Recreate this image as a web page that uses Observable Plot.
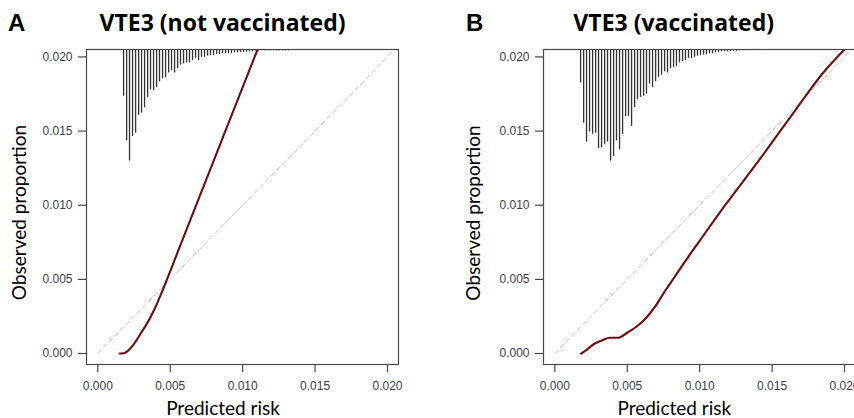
<!DOCTYPE html>
<html><head><meta charset="utf-8">
<script src="https://cdn.jsdelivr.net/npm/d3@7"></script>
<script src="https://cdn.jsdelivr.net/npm/@observablehq/plot@0.6"></script>
<style>
html,body{margin:0;padding:0;background:#fff;}
#wrap{position:relative;width:854px;height:418px;overflow:hidden;background:#fff;}
.panel{position:absolute;top:0;}
#overlay{position:absolute;left:0;top:0;}
</style></head><body><div id="wrap"></div>
<script>
// ---- data ----
const xTicks = [0, 0.005, 0.010, 0.015, 0.020];
const yTicks = [0, 0.005, 0.010, 0.015, 0.020];
const diagonal = [0, 0.0215];

const panelLetters = ["A", "B"];
const titles = ["VTE3 (not vaccinated)", "VTE3 (vaccinated)"];
const xLabel = "Predicted risk";
const yLabel = "Observed proportion";

// calibration curve, not vaccinated
const curveAX = [0.00150,0.00180,0.00210,0.00250,0.00295,0.00341,0.00387,0.00433,0.00475,0.00550,0.00650,0.00750,0.00850,0.00950,0.01103];
const curveAY = [0.00000,0.00002,0.00020,0.00065,0.00133,0.00205,0.00290,0.00392,0.00493,0.00680,0.00928,0.01176,0.01424,0.01672,0.02050];
// calibration curve, vaccinated
const curveBX = [0.00182,0.00220,0.00274,0.00330,0.00378,0.00436,0.00500,0.00574,0.00630,0.00690,0.00760,0.00830,0.00920,0.01000,0.01180,0.01400,0.01660,0.01850,0.02000];
const curveBY = [0.00000,0.00025,0.00066,0.00090,0.00106,0.00106,0.00140,0.00189,0.00240,0.00313,0.00420,0.00520,0.00650,0.00760,0.01005,0.01290,0.01640,0.01890,0.02050];

// spike histogram of predicted risk (relative frequency, max = 100)
const spikeAX = [0.00178,0.00199,0.00219,0.00240,0.00261,0.00282,0.00302,0.00323,0.00344,0.00364,
  0.00385,0.00406,0.00426,0.00447,0.00468,0.00489,0.00509,0.00530,0.00551,0.00571,
  0.00592,0.00613,0.00633,0.00654,0.00675,0.00696,0.00716,0.00737,0.00758,0.00778,
  0.00799,0.00820,0.00840,0.00861,0.00882,0.00902,0.00923,0.00944,0.00965,0.00985,
  0.01006,0.01027,0.01047,0.01068,0.01089,0.01109,0.01130,0.01151,0.01172,0.01192,
  0.01213,0.01234,0.01254,0.01275,0.01296,0.01316];
const spikeAF = [42,82,100,78,75,59,57,52,43,36,
  37,34,29,26,25,21,19,21,17,14,
  13,12,12,10,8,10,7,7,6,5.4,
  5.4,4.5,4.5,3.9,3.9,3.6,3.6,3,3,2.7,
  2.7,2.4,2.1,2.1,1.5,1.2,1.2,1.2,1.2,1.2,
  1.2,1.2,1.2,1.2,1.2,1.2];
const spikeBX = [0.00178,0.00199,0.00219,0.00240,0.00261,0.00282,0.00302,0.00323,0.00344,0.00364,
  0.00385,0.00406,0.00426,0.00447,0.00468,0.00489,0.00509,0.00530,0.00551,0.00571,
  0.00592,0.00613,0.00633,0.00654,0.00675,0.00696,0.00716,0.00737,0.00758,0.00778,
  0.00799,0.00820,0.00840,0.00861,0.00882,0.00902,0.00923,0.00944,0.00965,0.00985,
  0.01006,0.01027,0.01047,0.01068,0.01089,0.01109,0.01130,0.01151,0.01172,0.01192,
  0.01213,0.01234,0.01254,0.01275,0.01296,0.01316,0.01337,0.01358,0.01378,0.01399,
  0.01420,0.01440,0.01461];
const spikeBF = [30,66,83,74,76,75,89,88,85,83,
  100,96,82,90,76,60,60,69,52,45,
  43,42,40,31,34,29,25,23,20,21,
  17,16,15,12,11,10,8,8,7,6,
  5.4,5,4.5,3.6,3.6,3,2.7,2.1,2.1,2.1,
  1.8,1.5,1.5,1.2,1.2,1,1,1,0,1,
  1,0,1];

// ---- drawing ----
const xDomain = [-0.00078, 0.02076];
const yDomain = [-0.00074, 0.0205];
const spikeMax = 0.00752;
const fmt = d3.format(".3f");

function panel(curveX, curveY, spikeX, spikeF, marginLeft, width) {
  const curve = curveX.map((x, i) => ({x, y: curveY[i]}));
  const spikes = spikeX.map((x, i) => ({x, f: spikeF[i]})).filter(d => d.f > 0);
  const yTop = yDomain[1];
  return Plot.plot({
    width, height: 418,
    marginLeft, marginRight: 29, marginTop: 49, marginBottom: 54,
    x: {domain: xDomain},
    y: {domain: yDomain},
    style: {fontFamily: "'Liberation Sans', Arial, sans-serif", fontSize: "12px", background: "transparent", overflow: "visible"},
    marks: [
      Plot.line(diagonal, {x: d => d, y: d => d, stroke: "#c4c4c4", strokeWidth: 1, strokeDasharray: "5,3", clip: true}),
      Plot.ruleX(spikes, {x: "x", y1: () => yTop, y2: d => yTop - d.f / 100 * spikeMax, stroke: "#333", strokeWidth: 1.3}),
      Plot.line(curve, {x: "x", y: "y", stroke: "#6e0e0e", strokeWidth: 2.1, curve: "monotone-x", clip: true}),
      Plot.frame({stroke: "#4a4a4a", strokeWidth: 1.2}),
      Plot.axisX(xTicks, {tickSize: 8, tickPadding: 9, tickFormat: fmt, fontSize: 12, fill: "#40404c", stroke: "#4a4a4a", strokeWidth: 1.2, label: null}),
      Plot.axisY(yTicks, {tickSize: 8, tickPadding: 6, tickFormat: fmt, fontSize: 12, fill: "#40404c", stroke: "#4a4a4a", strokeWidth: 1.2, label: null})
    ]
  });
}

const wrap = document.getElementById("wrap");
const pA = panel(curveAX, curveAY, spikeAX, spikeAF, 86, 427);
pA.classList.add("panel"); pA.style.left = "0px";
wrap.appendChild(pA);
const pB = panel(curveBX, curveBY, spikeBX, spikeBF, 116, 457);
pB.classList.add("panel"); pB.style.left = "427px";
wrap.appendChild(pB);

// overlay text
const svg = d3.select(wrap).append("svg").attr("id", "overlay").attr("width", 854).attr("height", 418);
const sans = "Lato, 'Open Sans', sans-serif";
const letterPos = [{x: 8, y: 31}, {x: 466, y: 31}];
const titlePos = [{x: 222.5, y: 31}, {x: 673.7, y: 31}];
const xLabPos = [{x: 223, y: 415}, {x: 674.3, y: 415}];
const yLabPos = [{x: 26, y: 212.5}, {x: 480.3, y: 213}];
for (let i = 0; i < 2; i++) {
  svg.append("text").attr("x", letterPos[i].x).attr("y", letterPos[i].y)
    .attr("font-family", "'Liberation Sans', Arial, sans-serif").attr("font-weight", "bold").attr("font-size", 24)
    .text(panelLetters[i]);
  svg.append("text").attr("x", titlePos[i].x).attr("y", titlePos[i].y).attr("text-anchor", "middle")
    .attr("font-family", "'Open Sans', Lato, sans-serif").attr("font-weight", "bold").attr("font-size", 23)
    .text(titles[i]);
  svg.append("text").attr("x", xLabPos[i].x).attr("y", xLabPos[i].y).attr("text-anchor", "middle")
    .attr("font-family", sans).attr("font-size", 19)
    .text(xLabel);
  svg.append("text").attr("transform", `translate(${yLabPos[i].x},${yLabPos[i].y}) rotate(-90)`).attr("text-anchor", "middle")
    .attr("font-family", sans).attr("font-size", 19)
    .text(yLabel);
}
</script></body></html>
